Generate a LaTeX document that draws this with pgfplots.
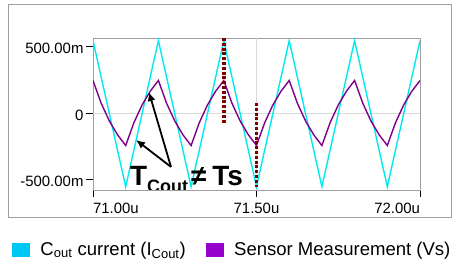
\documentclass[border=0pt]{standalone}
\usepackage{pgfplots}
\pgfplotsset{compat=1.18}
\usepackage{fontspec}
\setmainfont{Liberation Sans}
\usetikzlibrary{arrows.meta}
\definecolor{cyanline}{RGB}{0,235,240}
\definecolor{purpline}{RGB}{128,0,140}
\definecolor{cyanleg}{RGB}{0,200,245}
\definecolor{purpleg}{RGB}{150,0,205}
\definecolor{dred}{RGB}{128,0,0}
\begin{document}
\begin{tikzpicture}
\useasboundingbox (0,0) rectangle (456bp,262bp);
\draw[gray!75, line width=1bp] (8bp,44bp) rectangle (451bp,257bp);
\begin{axis}[
  at={(93bp,72bp)}, anchor=south west,
  scale only axis, width=327bp, height=152bp,
  xmin=71.0, xmax=72.0, ymin=-0.58, ymax=0.565,
  axis line style={gray!75, line width=0.9bp},
  tick style={black, line width=0.8bp},
  tick align=outside, xtick pos=left, ytick pos=left,
  major tick length=7bp,
  xtick={71.0,71.5,72.0},
  xticklabels={\makebox[0pt][l]{71.00u},71.50u,\makebox[0pt][r]{72.00u}},
  ytick={-0.5,0,0.5},
  yticklabels={-500.00m,0,500.00m},
  /pgf/number format/assume math mode=true,
  tick label style={font=\fontsize{15}{15}\selectfont},
  xticklabel style={yshift=-3bp},
  yticklabel style={xshift=1bp, yshift=-2bp},
  legend style={at={(-0.248,-0.39)}, anchor=west, draw=none, fill=none,
    font=\fontsize{18.6}{18.6}\selectfont, legend columns=2,
    /tikz/every odd column/.append style={column sep=9bp},
    /tikz/every even column/.append style={column sep=18bp},
    inner sep=0pt},
  legend image code/.code={\fill[#1] (0bp,-6.5bp) rectangle (17bp,6.5bp);},
]
\draw[gray!30, line width=0.9bp] (axis cs:71.5,-0.58) -- (axis cs:71.5,0.565);
\draw[gray!30, line width=0.9bp] (axis cs:71.0,0) -- (axis cs:72.0,0);
\addlegendimage{cyanleg}
\addlegendentry{C\textsubscript{out} current (I\textsubscript{Cout})}
\addlegendimage{purpleg}
\addlegendentry{Sensor Measurement (Vs)}
\addplot[cyanline, line width=1.4bp, forget plot] coordinates {
(71.0,0.545)(71.1,-0.555)(71.2,0.545)(71.3,-0.555)(71.4,0.545)(71.5,-0.555)
(71.6,0.545)(71.7,-0.555)(71.8,0.545)(71.9,-0.555)(72.0,0.545)};
\addplot[purpline, line width=1.4bp, forget plot] coordinates {
(71.000,0.245)(71.025,0.0735)(71.050,-0.060)(71.075,-0.164)(71.100,-0.245)
(71.125,-0.0735)(71.150,0.060)(71.175,0.164)(71.200,0.245)
(71.225,0.0735)(71.250,-0.060)(71.275,-0.164)(71.300,-0.245)
(71.325,-0.0735)(71.350,0.060)(71.375,0.164)(71.400,0.245)
(71.425,0.0735)(71.450,-0.060)(71.475,-0.164)(71.500,-0.245)
(71.525,-0.0735)(71.550,0.060)(71.575,0.164)(71.600,0.245)
(71.625,0.0735)(71.650,-0.060)(71.675,-0.164)(71.700,-0.245)
(71.725,-0.0735)(71.750,0.060)(71.775,0.164)(71.800,0.245)
(71.825,0.0735)(71.850,-0.060)(71.875,-0.164)(71.900,-0.245)
(71.925,-0.0735)(71.950,0.060)(71.975,0.164)(72.000,0.245)};
\addplot[dred, line width=3.5bp, dash pattern=on 3bp off 1.8bp, forget plot] coordinates {(71.4,0.565)(71.4,-0.075)};
\addplot[dred, line width=3.5bp, dash pattern=on 3bp off 1.8bp, forget plot] coordinates {(71.5,0.075)(71.5,-0.56)};
\draw[black, line width=1.8bp, -{Latex[length=9bp,width=8bp]}] (axis cs:71.2385,-0.406) -- (axis cs:71.171,0.158);
\draw[black, line width=1.8bp, -{Latex[length=9bp,width=8bp]}] (axis cs:71.2385,-0.406) -- (axis cs:71.1315,-0.203);
\node[anchor=base west, inner sep=0pt, font=\bfseries\fontsize{28}{28}\selectfont] at (axis cs:71.113,-0.549)
  {T\raisebox{-7bp}{\fontsize{18}{18}\selectfont Cout}\hspace{3bp}≠\hspace{6bp}Ts};
\end{axis}
\end{tikzpicture}
\end{document}
